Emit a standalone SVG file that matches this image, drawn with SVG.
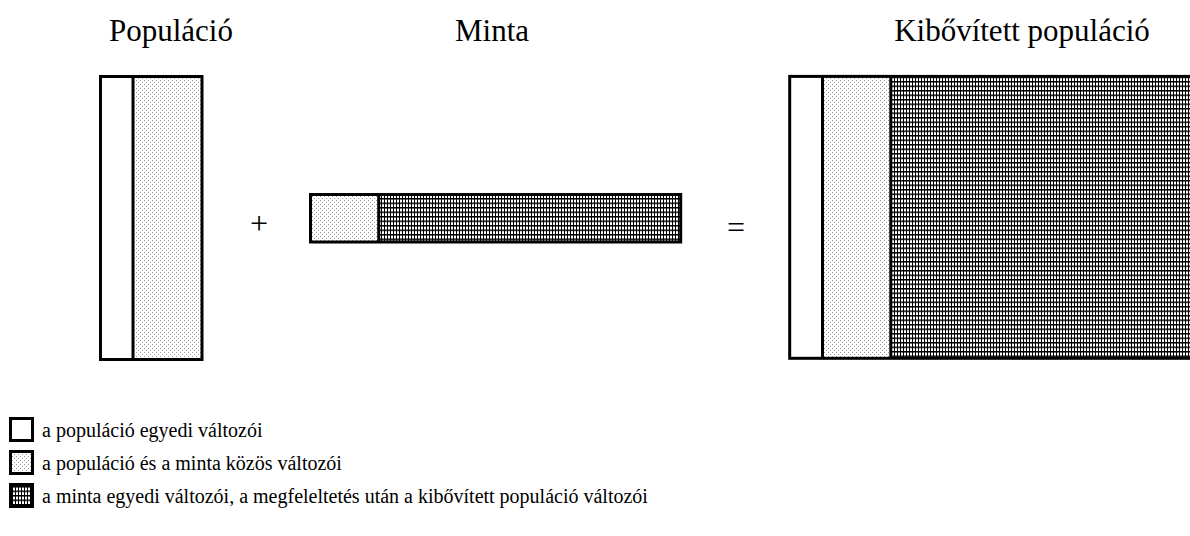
<svg xmlns="http://www.w3.org/2000/svg" width="1190" height="536" viewBox="0 0 1190 536">
  <style>
    .title { font-family: "Liberation Serif", "Times New Roman", serif; font-size: 31px; fill: #000; text-anchor: middle; }
    .op { font-family: "Liberation Serif", "Times New Roman", serif; font-size: 32px; fill: #000; text-anchor: middle; }
    .legend { font-family: "Liberation Serif", "Times New Roman", serif; font-size: 20px; fill: #000; }
    .box { stroke: #000; stroke-width: 3; }
    .line { stroke: #000; stroke-width: 3; fill: none; }
    .white { fill: #fff; }
    .dots { fill: url(#dotFill); }
    .grid { fill: url(#gridFill); }
  </style>
  <defs>
    <!-- light stipple for shared variables -->
    <pattern id="dotFill" width="4" height="4" patternUnits="userSpaceOnUse">
      <rect width="4" height="4" fill="#fff"/>
      <rect x="0" y="0" width="1" height="1" fill="#999"/>
      <rect x="2" y="2" width="1" height="1" fill="#999"/>
    </pattern>
    <!-- dense hatch for sample-only variables -->
    <pattern id="gridFill" width="3" height="4.5" patternUnits="userSpaceOnUse">
      <rect width="3" height="4.5" fill="#fff"/>
      <rect x="0" y="0" width="1" height="4.5" fill="#000"/>
      <rect x="0" y="0" width="3" height="1.5" fill="#000"/>
    </pattern>
  </defs>

  <!-- titles -->
  <text class="title" x="171" y="41">Populáció</text>
  <text class="title" x="492" y="41">Minta</text>
  <text class="title" x="1022" y="41">Kibővített populáció</text>

  <!-- population block -->
  <g id="population">
    <rect class="white" x="100.5" y="76.5" width="32.5" height="283"/>
    <rect class="dots" x="133" y="76.5" width="69" height="283"/>
    <rect class="box" fill="none" x="100.5" y="76.5" width="101.5" height="283"/>
    <line class="line" x1="133" y1="76.5" x2="133" y2="359.5"/>
  </g>

  <text class="op" x="259" y="234">+</text>

  <!-- sample block -->
  <g id="sample">
    <rect class="dots" x="310.5" y="194.5" width="68.2" height="47.5"/>
    <rect class="grid" x="378.7" y="194.5" width="302" height="47.5"/>
    <rect class="box" fill="none" x="310.5" y="194.5" width="370.2" height="47.5"/>
    <line class="line" x1="378.7" y1="194.5" x2="378.7" y2="242"/>
  </g>

  <text class="op" x="736" y="238">=</text>

  <!-- extended population block, runs past the right edge -->
  <g id="extended">
    <rect class="white" x="789.7" y="76.4" width="32.8" height="281.9"/>
    <rect class="dots" x="822.5" y="76.4" width="68.3" height="281.9"/>
    <rect class="grid" x="890.8" y="76.4" width="310" height="281.9"/>
    <rect class="box" fill="none" x="789.7" y="76.4" width="420" height="281.9"/>
    <line class="line" x1="822.5" y1="76.4" x2="822.5" y2="358.3"/>
    <line class="line" x1="890.8" y1="76.4" x2="890.8" y2="358.3"/>
  </g>

  <!-- legend -->
  <g id="legend-unique">
    <rect class="box white" x="10.5" y="418.5" width="22" height="22"/>
    <text class="legend" x="42" y="437">a populáció egyedi változói</text>
  </g>
  <g id="legend-common">
    <rect class="box dots" x="10.5" y="451.5" width="22" height="22"/>
    <text class="legend" x="42" y="470">a populáció és a minta közös változói</text>
  </g>
  <g id="legend-sample">
    <rect class="box grid" x="10.5" y="484.5" width="22" height="22"/>
    <text class="legend" x="42" y="503">a minta egyedi változói, a megfeleltetés után a kibővített populáció változói</text>
  </g>
</svg>
